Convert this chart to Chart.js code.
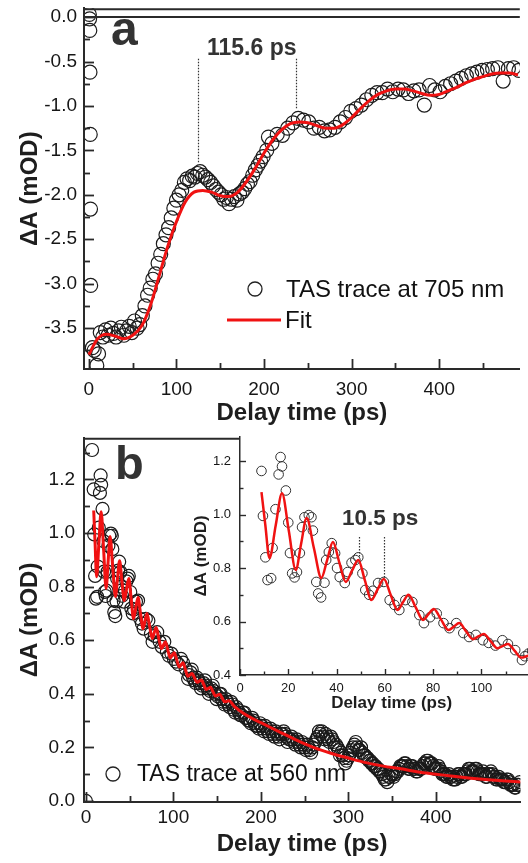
<!DOCTYPE html>
<html>
<head>
<meta charset="utf-8">
<script src="https://cdn.jsdelivr.net/npm/chart.js@4.4.1/dist/chart.umd.min.js"></script>
<style>
  html, body { margin: 0; padding: 0; background: #fff; overflow: hidden; }
  body { width: 528px; height: 863px; position: relative; }
  canvas { position: absolute; }
  #chartA { left: 0; top: 0; }
  #chartB { left: 0; top: 430px; }
  #chartInset { left: 180px; top: 430px; }
</style>
</head>
<body>
<canvas id="chartA" width="528" height="430"></canvas>
<canvas id="chartB" width="528" height="433"></canvas>
<canvas id="chartInset" width="369" height="300"></canvas>
<script>
const FONT = "'Liberation Sans', Arial, Helvetica, sans-serif";

// ---- panel a: TAS trace at 705 nm ----
const traceA_t = [0.5, 0.8, 1.0, 1.2, 1.5, 1.8, 2.0, 4, 6, 9, 11, 13,
  16, 19, 22, 25, 28, 31, 34, 37, 40, 43, 46, 49,
  52, 55, 58, 61, 64, 67, 70, 73, 76, 79, 82, 85,
  88, 91, 94, 97, 100, 103, 106, 109, 112, 115, 118, 121,
  124, 127, 130, 133, 136, 139, 142, 145, 148, 151, 154, 157,
  160, 163, 166, 169, 172, 175, 178, 181, 184, 187, 190, 193,
  196, 199, 205,
  203, 209, 215, 221, 227, 233, 239, 245, 251, 257,
  263, 269, 275, 281, 287, 293, 299, 305, 311, 317,
  323, 329, 335, 341, 347, 353, 359, 365, 371, 377,
  383, 389, 395, 401, 407, 413, 419, 425, 431, 437,
  443, 449, 455, 461, 467, 473, 479, 485, 491];
const traceA_v = [0.03, -0.02, -0.15, -0.62, -1.32, -2.16, -3.02, -3.72, -3.75, -3.92, -3.79, -3.55,
  -3.60, -3.52, -3.58, -3.50, -3.56, -3.60, -3.53, -3.49, -3.58, -3.53, -3.48, -3.55,
  -3.42, -3.50, -3.46, -3.36, -3.25, -3.13, -3.05, -2.95, -2.89, -2.77, -2.67, -2.55,
  -2.45, -2.37, -2.26, -2.15, -2.06, -2.00, -1.95, -1.86, -1.82, -1.84, -1.79, -1.80,
  -1.76, -1.74, -1.78, -1.80, -1.83, -1.86, -1.90, -1.94, -1.97, -2.00, -2.05, -2.03,
  -2.10, -2.05, -2.02, -2.06, -1.99, -1.97, -1.93, -1.88, -1.85, -1.78, -1.72, -1.67,
  -1.62, -1.57, -1.35,
  -1.50, -1.42, -1.32, -1.33, -1.25, -1.19, -1.14, -1.16, -1.18, -1.25,
  -1.24, -1.28, -1.27, -1.24, -1.18, -1.13, -1.06, -1.03, -0.99, -0.93,
  -0.88, -0.85, -0.85, -0.81, -0.84, -0.81, -0.82, -0.86, -0.83, -0.82,
  -0.99, -0.77, -0.82, -0.84, -0.78, -0.75, -0.72, -0.69, -0.66, -0.64,
  -0.62, -0.60, -0.59, -0.58, -0.57, -0.72, -0.58, -0.57, -0.60];
const fitA_t = [0, 5, 10, 15, 20, 30, 40, 50, 60, 70, 80, 90, 100, 110, 120, 130, 140, 150, 160, 170,
  180, 190, 200, 210, 220, 230, 240, 250, 260, 270, 280, 290, 300, 310, 320, 330, 340, 350, 360, 370,
  380, 390, 400, 410, 420, 430, 440, 450, 460, 470, 480, 490];
const fitA_v = [-3.80, -3.70, -3.62, -3.58, -3.57, -3.59, -3.62, -3.58, -3.48, -3.25, -2.92, -2.58, -2.30, -2.08, -1.97, -1.95, -1.97, -2.01, -2.02, -1.97,
  -1.85, -1.70, -1.53, -1.38, -1.27, -1.20, -1.18, -1.19, -1.22, -1.25, -1.25, -1.21, -1.13, -1.03, -0.94, -0.87, -0.83, -0.81, -0.81, -0.83,
  -0.86, -0.88, -0.87, -0.83, -0.79, -0.74, -0.70, -0.67, -0.64, -0.63, -0.63, -0.65];
const periodA_t = [124.4, 236.5];     // dotted markers, 115.6 ps apart
const periodA_top = -0.47;
const periodA_bottom = [-1.65, -1.04];

// ---- panel b: TAS trace at 560 nm (inset shares it) ----
const traceB_t = [0, 7, 8.9, 9.5, 10.5, 11.4, 12.9, 13.5, 14.7, 16, 16.8, 17.4,
  19, 20, 20.7, 21.6, 22.6, 23.6, 24.8, 25.7, 26.7, 28.5, 29.6, 30.2, 31.6, 32.4, 33.6, 35, 35.7, 36.8,
  38, 39.4, 40.2, 41.3, 43.4, 44.6, 46.2, 47.8, 49, 50.7, 51.9, 53.5, 55, 57.2, 59.6, 62, 64, 66, 68.5, 71.4,
  74.3, 76.2, 78.7, 81.5, 84.3, 86.8, 89.6, 92.5, 94.9, 97.7, 100.6, 103, 105.8, 108.7, 111, 114, 116.8,
  118, 121, 124, 127, 130, 133, 136, 139, 142, 145, 148, 151, 154, 157, 160, 163, 166, 169, 172, 175,
  178, 181, 184, 187, 190, 193, 196, 199, 202, 205, 208, 211, 214, 217, 220, 223, 226, 229, 232, 235,
  238, 241, 244, 247, 250, 253, 256, 259, 262, 265, 268, 271, 274, 277, 280, 283, 286, 289, 292, 295,
  298, 301, 304, 307, 310, 313, 316, 319, 322, 325, 328, 331, 334, 337, 340, 343, 346, 349, 352, 355,
  358, 361, 364, 367, 370, 373, 376, 379, 382, 385, 388, 391, 394, 397, 400, 403, 406, 409, 412, 415,
  418, 421, 424, 427, 430, 433, 436, 439, 442, 445, 448, 451, 454, 457, 460, 463, 466, 469, 472, 475,
  478, 481, 484, 487, 490, 493, 496];
const traceB_v = [0, 1.31, 1.163, 0.995, 0.84, 0.755, 0.762, 0.875, 1.02, 1.15, 1.215, 1.18,
  1.09, 0.97, 0.856, 0.78, 0.765, 0.785, 0.856, 0.953, 0.99, 0.998, 0.99, 0.94, 0.748, 0.705, 0.69, 0.745, 0.83, 0.86,
  0.893, 0.855, 0.80, 0.766, 0.744, 0.785, 0.82, 0.83, 0.84, 0.78, 0.718, 0.70, 0.715, 0.744, 0.748, 0.68, 0.662, 0.643, 0.68, 0.673,
  0.624, 0.594, 0.616, 0.63, 0.594, 0.575, 0.594, 0.557, 0.542, 0.55, 0.53, 0.52, 0.51, 0.53, 0.516, 0.493, 0.456,
  0.47, 0.49, 0.45, 0.46, 0.44, 0.43, 0.45, 0.42, 0.41, 0.43, 0.40, 0.39, 0.40, 0.37, 0.38, 0.36, 0.37, 0.34, 0.35, 0.33,
  0.32, 0.33, 0.31, 0.30, 0.31, 0.29, 0.28, 0.29, 0.27, 0.28, 0.26, 0.27, 0.25, 0.26, 0.24, 0.25, 0.26, 0.24, 0.23, 0.24,
  0.22, 0.23, 0.21, 0.22, 0.20, 0.21, 0.19, 0.20, 0.22, 0.24, 0.25, 0.24, 0.25, 0.23, 0.24, 0.22, 0.21, 0.19, 0.18, 0.16,
  0.15, 0.17, 0.19, 0.21, 0.20, 0.19, 0.18, 0.17, 0.16, 0.15, 0.14, 0.13, 0.12, 0.11, 0.09, 0.08, 0.09, 0.10, 0.09, 0.11,
  0.12, 0.13, 0.14, 0.13, 0.12, 0.13, 0.12, 0.11, 0.12, 0.13, 0.14, 0.15, 0.14, 0.13, 0.12, 0.13, 0.11, 0.10, 0.09, 0.10,
  0.09, 0.08, 0.09, 0.10, 0.09, 0.10, 0.11, 0.12, 0.11, 0.12, 0.11, 0.10, 0.11, 0.09, 0.10, 0.11, 0.09, 0.08, 0.09, 0.08,
  0.07, 0.08, 0.07, 0.06, 0.05, 0.06, 0.07];
// the in-between samples of the long tail
const traceB2_t = [119.5, 122.5, 125.5, 128.5, 131.5, 134.5, 137.5, 140.5, 143.5, 146.5,
  149.5, 152.5, 155.5, 158.5, 161.5, 164.5, 167.5, 170.5, 173.5, 176.5,
  179.5, 182.5, 185.5, 188.5, 191.5, 194.5, 197.5, 200.5, 203.5, 206.5,
  209.5, 212.5, 215.5, 218.5, 221.5, 224.5, 227.5, 230.5, 233.5, 236.5,
  239.5, 242.5, 245.5, 248.5, 251.5, 254.5, 257.5, 260.5, 263.5, 266.5,
  269.5, 272.5, 275.5, 278.5, 281.5, 284.5, 287.5, 290.5, 293.5, 296.5,
  299.5, 302.5, 305.5, 308.5, 311.5, 314.5, 317.5, 320.5, 323.5, 326.5,
  329.5, 332.5, 335.5, 338.5, 341.5, 344.5, 347.5, 350.5, 353.5, 356.5,
  359.5, 362.5, 365.5, 368.5, 371.5, 374.5, 377.5, 380.5, 383.5, 386.5,
  389.5, 392.5, 395.5, 398.5, 401.5, 404.5, 407.5, 410.5, 413.5, 416.5,
  419.5, 422.5, 425.5, 428.5, 431.5, 434.5, 437.5, 440.5, 443.5, 446.5,
  449.5, 452.5, 455.5, 458.5, 461.5, 464.5, 467.5, 470.5, 473.5, 476.5,
  479.5, 482.5, 485.5, 488.5, 491.5, 494.5];
const traceB2_v = [0.48, 0.46, 0.44, 0.45, 0.42, 0.44, 0.43, 0.40, 0.42, 0.41,
  0.38, 0.40, 0.38, 0.36, 0.37, 0.35, 0.36, 0.33, 0.34, 0.32,
  0.33, 0.31, 0.30, 0.29, 0.30, 0.28, 0.27, 0.28, 0.26, 0.27,
  0.25, 0.26, 0.24, 0.25, 0.23, 0.25, 0.25, 0.22, 0.23, 0.23,
  0.21, 0.22, 0.20, 0.21, 0.19, 0.20, 0.18, 0.21, 0.23, 0.26,
  0.26, 0.23, 0.24, 0.22, 0.23, 0.20, 0.20, 0.17, 0.17, 0.14,
  0.16, 0.18, 0.20, 0.22, 0.19, 0.20, 0.17, 0.16, 0.15, 0.14,
  0.13, 0.12, 0.11, 0.10, 0.08, 0.07, 0.09, 0.10, 0.10, 0.11,
  0.13, 0.13, 0.14, 0.12, 0.13, 0.12, 0.11, 0.12, 0.12, 0.14,
  0.15, 0.14, 0.14, 0.12, 0.12, 0.12, 0.10, 0.10, 0.09, 0.09,
  0.08, 0.08, 0.10, 0.09, 0.10, 0.10, 0.12, 0.11, 0.11, 0.12,
  0.10, 0.10, 0.10, 0.09, 0.10, 0.10, 0.09, 0.08, 0.08, 0.08,
  0.07, 0.08, 0.06, 0.06, 0.05, 0.06];
const fitB_t = [8.9, 10.5, 12.2, 14.8, 17.4, 20.2, 23.1, 25.3, 27.6, 30.6, 33.7, 36.1, 38.5, 41.1, 43.8, 46.4, 49, 51.7, 54.4, 57,
  59.6, 62.4, 65.3, 67.5, 69.8, 72.8, 75.8, 78, 80.3, 83.3, 86.4, 88.6, 90.8, 93.6, 96.5, 98.7, 101, 103.8, 106.6, 108.8,
  111, 113.8, 116.5, 119, 121.5, 124.2, 127, 129.5, 132, 134.8, 137.5, 140, 142.5, 145.2, 148, 150.5, 153, 155.8, 158.5, 161,
  163.5, 170, 180, 190, 200, 220, 240, 260, 280, 300, 320, 340, 360, 380, 400, 420, 440, 460, 480, 500];
const fitB_v = [1.084, 0.96, 0.837, 0.96, 1.08, 0.94, 0.793, 0.89, 0.987, 0.875, 0.763, 0.83, 0.897, 0.822, 0.748, 0.79, 0.83, 0.755, 0.68, 0.72,
  0.759, 0.70, 0.643, 0.672, 0.70, 0.653, 0.606, 0.627, 0.647, 0.607, 0.568, 0.581, 0.594, 0.564, 0.534, 0.544, 0.553, 0.527, 0.50, 0.508,
  0.516, 0.49, 0.465, 0.471, 0.476, 0.459, 0.443, 0.447, 0.451, 0.434, 0.416, 0.42, 0.424, 0.408, 0.392, 0.395, 0.398, 0.384, 0.37, 0.372,
  0.374, 0.352, 0.327, 0.308, 0.292, 0.26, 0.228, 0.20, 0.178, 0.16, 0.143, 0.13, 0.12, 0.108, 0.10, 0.092, 0.085, 0.079, 0.074, 0.07];
const periodIn_t = [49.5, 59.6];      // dotted markers, 10.5 ps apart
const periodIn_top = 0.916;
const periodIn_bottom = [0.841, 0.766];

// ---- tick labels / tick marks ----
const ticksA_x = [0, 100, 200, 300, 400];
const minorA_x = [50, 150, 250, 350, 450];
const ticksA_y = [0, -0.5, -1.0, -1.5, -2.0, -2.5, -3.0, -3.5];
const minorA_y = [-0.25, -0.75, -1.25, -1.75, -2.25, -2.75, -3.25, -3.75];
const ticksB_x = [0, 100, 200, 300, 400];
const minorB_x = [50, 150, 250, 350, 450];
const ticksB_y = [0, 0.2, 0.4, 0.6, 0.8, 1.0, 1.2];
const minorB_y = [0.1, 0.3, 0.5, 0.7, 0.9, 1.1, 1.3];
const ticksIn_x = [0, 20, 40, 60, 80, 100];
const minorIn_x = [10, 30, 50, 70, 90, 110];
const ticksIn_y = [0.4, 0.6, 0.8, 1.0, 1.2];
const minorIn_y = [0.5, 0.7, 0.9, 1.1];

const RED = '#f01212';
const pairs = (ts, vs) => ts.map((t, i) => ({ x: t, y: vs[i] }));

function axis(o) {
  return {
    type: 'linear', position: o.position, min: o.min, max: o.max,
    grid: { display: false, drawTicks: false },
    border: { display: true, color: '#2a2a2a', width: o.bw, z: 1 },
    ticks: {
      autoSkip: false, maxRotation: 0, padding: o.pad, color: '#161616',
      font: { family: FONT, size: o.fs },
      callback: o.fmt
    },
    afterBuildTicks: s => { s.ticks = o.ticks.map(v => ({ value: v })); },
    title: {
      display: true, text: o.title, color: '#1e1e1e',
      font: { family: FONT, size: o.tfs, weight: 'bold' }, padding: o.tpad
    },
    afterFit: s => {
      if (s.isHorizontal()) { s.height = o.size; s.paddingLeft = 0; s.paddingRight = 0; }
      else { s.width = o.size; s.paddingTop = 0; s.paddingBottom = 0; }
    }
  };
}

// inward tick marks, top frame line, zero line, white plot background
const frame = {
  id: 'frame',
  beforeDraw(chart, args, o) {
    if (!o.fill) return;
    const { ctx, chartArea: a } = chart;
    ctx.save();
    ctx.fillStyle = o.fill;
    ctx.fillRect(a.left, a.top, a.right - a.left, a.bottom - a.top);
    ctx.restore();
  },
  afterDatasetsDraw(chart, args, o) {
    const { ctx, chartArea: a, scales: { x, y } } = chart;
    ctx.save();
    ctx.strokeStyle = '#2a2a2a';
    ctx.lineWidth = o.tickWidth;
    const mark = (scale, vals, len) => vals.forEach(v => {
      const p = Math.round(scale.getPixelForValue(v)) + 0.5;
      ctx.beginPath();
      if (scale.isHorizontal()) { ctx.moveTo(p, a.bottom); ctx.lineTo(p, a.bottom - len); }
      else { ctx.moveTo(a.left, p); ctx.lineTo(a.left + len, p); }
      ctx.stroke();
    });
    mark(x, o.xMajor, o.majorLen); mark(x, o.xMinor, o.minorLen);
    mark(y, o.yMajor, o.majorLen); mark(y, o.yMinor, o.minorLen);
    ctx.lineWidth = o.frameWidth;
    if (o.top) {
      ctx.beginPath(); ctx.moveTo(a.left, a.top + 1); ctx.lineTo(a.right, a.top + 1); ctx.stroke();
    }
    if (o.zero) {
      const p = y.getPixelForValue(0);
      ctx.beginPath(); ctx.moveTo(a.left, p); ctx.lineTo(a.right, p); ctx.stroke();
    }
    ctx.restore();
  }
};

function write(ctx, str, px, py, size, weight, color, baseline) {
  ctx.save();
  ctx.font = `${weight} ${size}px ${FONT}`;
  ctx.fillStyle = color;
  ctx.textAlign = 'left';
  ctx.textBaseline = baseline || 'alphabetic';
  ctx.fillText(str, px, py);
  ctx.restore();
}

function dotted(ctx, x, y, t, top, bottom) {
  const px = Math.round(x.getPixelForValue(t)) + 0.5;
  ctx.save();
  ctx.strokeStyle = '#333';
  ctx.lineWidth = 1.2;
  ctx.setLineDash([1.5, 1.5]);
  ctx.beginPath();
  ctx.moveTo(px, y.getPixelForValue(top));
  ctx.lineTo(px, y.getPixelForValue(bottom));
  ctx.stroke();
  ctx.restore();
}

function circleKey(ctx, cx, cy, r) {
  ctx.save();
  ctx.strokeStyle = '#222';
  ctx.lineWidth = 1.3;
  ctx.beginPath(); ctx.arc(cx, cy, r, 0, Math.PI * 2); ctx.stroke();
  ctx.restore();
}

const notesA = {
  id: 'notesA',
  afterDraw(chart) {
    const { ctx, scales: { x, y } } = chart;
    write(ctx, 'a', 111, 45, 48, 'bold', '#333');
    write(ctx, '115.6 ps', 207, 55, 23, 'bold', '#333');
    periodA_t.forEach((t, i) => dotted(ctx, x, y, t, periodA_top, periodA_bottom[i]));
    circleKey(ctx, 255, 289, 7);
    write(ctx, 'TAS trace at 705 nm', 286, 290, 24, 'normal', '#111', 'middle');
    ctx.save();
    ctx.strokeStyle = RED; ctx.lineWidth = 3;
    ctx.beginPath(); ctx.moveTo(227, 320); ctx.lineTo(281, 320); ctx.stroke();
    ctx.restore();
    write(ctx, 'Fit', 285, 321, 24, 'normal', '#111', 'middle');
  }
};

const notesB = {
  id: 'notesB',
  afterDraw(chart) {
    const { ctx } = chart;
    write(ctx, 'b', 115, 49, 47, 'bold', '#333');
    circleKey(ctx, 113, 344, 7);
    write(ctx, 'TAS trace at 560 nm', 137, 345, 23, 'normal', '#111', 'middle');
  }
};

const notesIn = {
  id: 'notesIn',
  afterDraw(chart) {
    const { ctx, scales: { x, y } } = chart;
    write(ctx, '10.5 ps', 162, 95, 22.5, 'bold', '#333');
    periodIn_t.forEach((t, i) => dotted(ctx, x, y, t, periodIn_top, periodIn_bottom[i]));
  }
};

function datasets(trace, fit, radius, border, lw, ptColor) {
  return [
    {
      label: 'Fit', data: fit, showLine: true, borderColor: RED, borderWidth: lw,
      pointRadius: 0, cubicInterpolationMode: 'monotone', order: 0, clip: 0
    },
    {
      label: 'TAS trace', data: trace, showLine: false, pointStyle: 'circle',
      pointRadius: radius, pointBorderWidth: border, pointBorderColor: ptColor,
      pointBackgroundColor: 'rgba(0,0,0,0)', order: 1, clip: 0
    }
  ];
}

function baseOptions(padTop, scales, frameOpts) {
  return {
    responsive: false, animation: false, devicePixelRatio: 1,
    layout: { padding: { top: padTop, left: 0, right: 0, bottom: 0 } },
    plugins: { legend: { display: false }, tooltip: { enabled: false }, frame: frameOpts },
    scales
  };
}

const fmt1 = v => Number(v).toFixed(1);
const fmt0 = v => String(v);
const traceB = pairs(traceB_t, traceB_v).concat(pairs(traceB2_t, traceB2_v));
const fitB = pairs(fitB_t, fitB_v);

new Chart(document.getElementById('chartA'), {
  type: 'scatter',
  data: { datasets: datasets(pairs(traceA_t, traceA_v), pairs(fitA_t, fitA_v), 7, 1.2, 3, '#1c1c1c') },
  options: baseOptions(6, {
    x: axis({ position: 'bottom', min: -5.6, max: 492, ticks: ticksA_x, fmt: fmt0, pad: 9, fs: 19, bw: 2,
      title: 'Delay time (ps)', tfs: 24, tpad: { top: 0, bottom: 2.6 }, size: 61 }),
    y: axis({ position: 'left', min: -3.96, max: 0.1, ticks: ticksA_y, fmt: fmt1, pad: 7, fs: 19, bw: 2,
      title: 'ΔA (mOD)', tfs: 24, tpad: { top: 16, bottom: 0 }, size: 84 })
  }, { xMajor: ticksA_x, xMinor: minorA_x, yMajor: ticksA_y, yMinor: minorA_y,
       majorLen: 10, minorLen: 6, tickWidth: 1.8, frameWidth: 2, top: true, zero: true }),
  plugins: [frame, notesA]
});

new Chart(document.getElementById('chartB'), {
  type: 'scatter',
  data: { datasets: datasets(traceB, fitB, 6.5, 1.2, 3, '#1a1a1a') },
  options: baseOptions(7, {
    x: axis({ position: 'bottom', min: -2.2, max: 496.6, ticks: ticksB_x, fmt: fmt0, pad: 4.5, fs: 19, bw: 2,
      title: 'Delay time (ps)', tfs: 24, tpad: { top: 0, bottom: 4.6 }, size: 61 }),
    y: axis({ position: 'left', min: -0.004, max: 1.356, ticks: ticksB_y, fmt: fmt1, pad: 9, fs: 19, bw: 2,
      title: 'ΔA (mOD)', tfs: 24, tpad: { top: 16, bottom: 0 }, size: 84 })
  }, { xMajor: ticksB_x, xMinor: minorB_x, yMajor: ticksB_y, yMinor: minorB_y,
       majorLen: 10, minorLen: 6, tickWidth: 1.8, frameWidth: 2, top: true, zero: false }),
  plugins: [frame, notesB]
});

new Chart(document.getElementById('chartInset'), {
  type: 'scatter',
  data: { datasets: datasets(traceB, fitB, 4.8, 1, 2.5, '#333') },
  options: baseOptions(7, {
    x: axis({ position: 'bottom', min: 0, max: 125.6, ticks: ticksIn_x, fmt: fmt0, pad: 6, fs: 13, bw: 1.5,
      title: 'Delay time (ps)', tfs: 17, tpad: { top: 0, bottom: 16.3 }, size: 55 }),
    y: axis({ position: 'left', min: 0.4, max: 1.29, ticks: ticksIn_y, fmt: fmt1, pad: 9, fs: 13, bw: 1.5,
      title: 'ΔA (mOD)', tfs: 17, tpad: { top: 10.8, bottom: 0 }, size: 60 })
  }, { xMajor: ticksIn_x, xMinor: minorIn_x, yMajor: ticksIn_y, yMinor: minorIn_y,
       majorLen: 6, minorLen: 3.5, tickWidth: 1.4, frameWidth: 1.5, top: false, zero: false, fill: '#fff' }),
  plugins: [frame, notesIn]
});
</script>
</body>
</html>
